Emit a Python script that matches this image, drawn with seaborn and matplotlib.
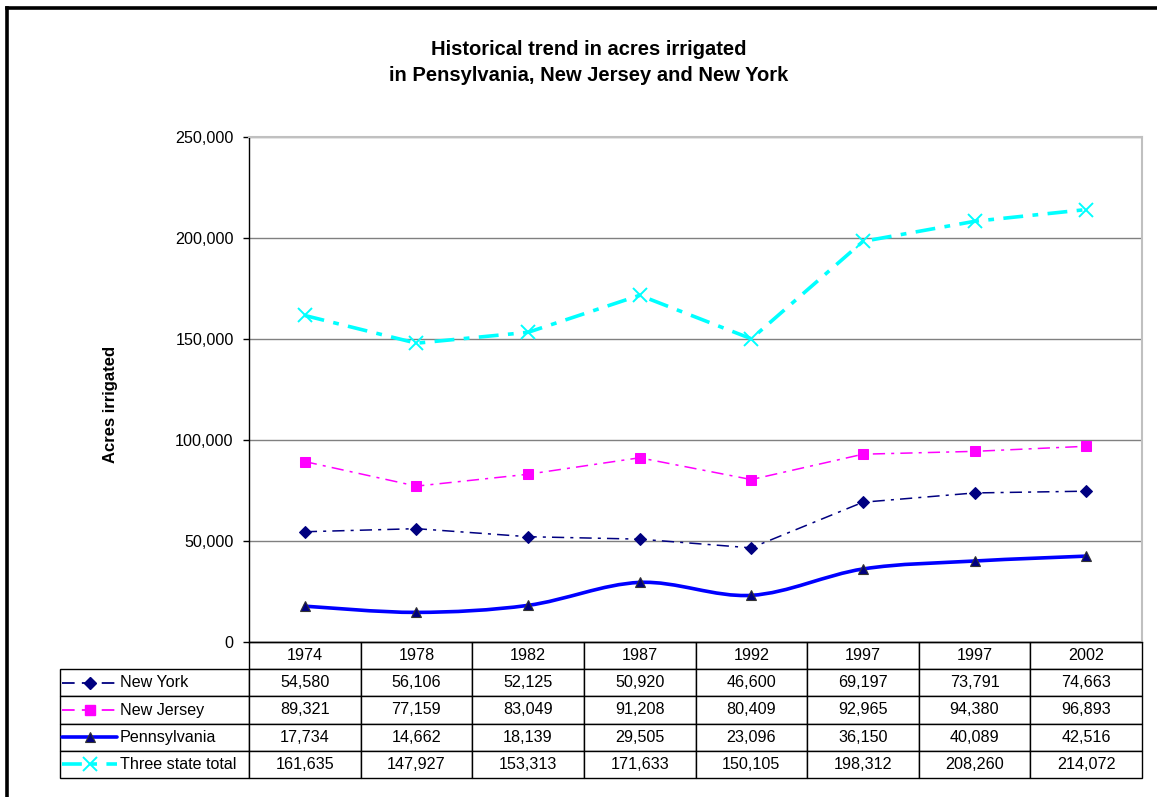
import numpy as np
import pandas as pd
import matplotlib
matplotlib.use("Agg")
import matplotlib.pyplot as plt
import seaborn as sns
from matplotlib.path import Path
from matplotlib.patches import PathPatch
from matplotlib.lines import Line2D
from matplotlib.ticker import StrMethodFormatter, MultipleLocator

# ---- data -------------------------------------------------------------
years = ["1974", "1978", "1982", "1987", "1992", "1997", "1997", "2002"]
series_names = ["New York", "New Jersey", "Pennsylvania", "Three state total"]
new_york = [54580, 56106, 52125, 50920, 46600, 69197, 73791, 74663]
new_jersey = [89321, 77159, 83049, 91208, 80409, 92965, 94380, 96893]
pennsylvania = [17734, 14662, 18139, 29505, 23096, 36150, 40089, 42516]
three_state_total = [161635, 147927, 153313, 171633, 150105, 198312, 208260, 214072]

title_text = "Historical trend in acres irrigated\nin Pensylvania, New Jersey and New York"
y_label = "Acres irrigated"
y_max = 250000
y_step = 50000

# ---- styling ------------------------------------------------------------
sns.set_style("white")
plt.rcParams["font.family"] = ["Liberation Sans", "DejaVu Sans"]
plt.rcParams["text.color"] = "black"

W, H = 1157, 797
fig = plt.figure(figsize=(W / 100, H / 100), dpi=100)
fig.patch.set_facecolor("white")

# plot area in pixel layout
ax_l, ax_r, ax_t, ax_b = 249, 1142, 137, 642
ax = fig.add_axes([ax_l / W, 1 - ax_b / H, (ax_r - ax_l) / W, (ax_b - ax_t) / H])
ax.set_facecolor("white")

pos = np.arange(len(years))
df = pd.DataFrame({
    "pos": np.tile(pos, 4),
    "acres": new_york + new_jersey + pennsylvania + three_state_total,
    "series": np.repeat(series_names, len(years)),
})

styles = {
    "New York": dict(color="#000080", linewidth=1.1, linestyle=(0, (8, 4, 2, 4)),
                     marker="D", markersize=6.0, markerfacecolor="#000080",
                     markeredgecolor="#000080"),
    "New Jersey": dict(color="#FF00FF", linewidth=1.1, linestyle=(0, (8, 4, 2, 4)),
                       marker="s", markersize=7.0, markerfacecolor="#FF00FF",
                       markeredgecolor="#FF00FF"),
    "Three state total": dict(color="#00FFFF", linewidth=2.6, linestyle=(0, (5.5, 2.6, 1.6, 2.6)),
                              marker="x", markersize=9.5, markeredgewidth=1.4,
                              markeredgecolor="#00FFFF"),
}

for name in ["New York", "New Jersey", "Three state total"]:
    sub = df[df["series"] == name]
    sns.lineplot(data=sub, x="pos", y="acres", ax=ax, zorder=3, **styles[name])

# Pennsylvania: smoothed line (cubic Bezier through the points) + markers
sub = df[df["series"] == "Pennsylvania"]
px = sub["pos"].to_numpy(dtype=float)
py = sub["acres"].to_numpy(dtype=float)
P = np.column_stack([px, py])
Pext = np.vstack([P[0], P, P[-1]])
verts = [tuple(P[0])]
codes = [Path.MOVETO]
for i in range(len(P) - 1):
    c1 = P[i] + (Pext[i + 2] - Pext[i]) / 6.0
    c2 = P[i + 1] - (Pext[i + 3] - Pext[i + 1]) / 6.0
    verts += [tuple(c1), tuple(c2), tuple(P[i + 1])]
    codes += [Path.CURVE4] * 3
ax.add_patch(PathPatch(Path(verts, codes), facecolor="none", edgecolor="#0000FF",
                       linewidth=2.6, zorder=3, capstyle="round", joinstyle="round"))
sns.lineplot(data=sub, x="pos", y="acres", ax=ax, linestyle="none", marker="^",
             markersize=7.5, markerfacecolor="#000080", markeredgecolor="#333333",
             markeredgewidth=0.8, zorder=4)

# axes
ax.set_xlim(-0.5, len(years) - 0.5)
ax.set_ylim(0, y_max)
ax.yaxis.set_major_locator(MultipleLocator(y_step))
ax.yaxis.set_major_formatter(StrMethodFormatter("{x:,.0f}"))
ax.set_xticks([])
ax.set_xlabel("")
ax.set_ylabel("")
ax.tick_params(axis="y", which="major", direction="out", length=4, width=1,
               color="black", pad=7, labelsize=11.6, labelcolor="black", left=True)
ax.yaxis.grid(True, color="#808080", linewidth=1.0)
ax.set_axisbelow(True)
for s in ["top", "right"]:
    ax.spines[s].set_color("#C0C0C0")
    ax.spines[s].set_linewidth(1.5)
ax.spines["left"].set_color("black")
ax.spines["left"].set_linewidth(1.0)
ax.spines["bottom"].set_color("black")
ax.spines["bottom"].set_linewidth(1.0)

# ---- data table under the plot ----------------------------------------
tbl_left, tbl_bottom = 60, 778
plot_w = ax_r - ax_l
plot_h = ax_b - ax_t
label_w = ax_l - tbl_left
col_w = plot_w / len(years)

series_values = [new_york, new_jersey, pennsylvania, three_state_total]
cell_text = [[n] + [f"{v:,}" for v in vals] for n, vals in zip(series_names, series_values)]
col_labels = [""] + years
col_widths = [label_w] + [col_w] * len(years)

tbl = ax.table(cellText=cell_text, colLabels=col_labels, colWidths=col_widths,
               cellLoc="center", colLoc="center",
               bbox=[-label_w / plot_w, -(tbl_bottom - ax_b) / plot_h,
                     (label_w + plot_w) / plot_w, (tbl_bottom - ax_b) / plot_h])
tbl.auto_set_font_size(False)
tbl.set_fontsize(11.6)
for (r, c), cell in tbl.get_celld().items():
    cell.set_edgecolor("black")
    cell.set_linewidth(1.0)
    cell.get_text().set_color("black")
    if r == 0 and c == 0:
        cell.visible_edges = "open"
    if r > 0 and c == 0:
        cell.get_text().set_horizontalalignment("left")
        cell.PAD = (120 - tbl_left) / label_w

# legend keys inside the first table column
n_rows = len(series_names) + 1
row_h = (tbl_bottom - ax_b) / n_rows
key_x0, key_x1, key_xc = 62, 117, 90
key_styles = {
    "New York": dict(color="#000080", linewidth=1.3, linestyle=(0, (7, 4)),
                     marker="D", markersize=6.5, markerfacecolor="#000080",
                     markeredgecolor="#000080"),
    "New Jersey": dict(color="#FF00FF", linewidth=1.3, linestyle=(0, (7, 4)),
                       marker="s", markersize=7.5, markerfacecolor="#FF00FF",
                       markeredgecolor="#FF00FF"),
    "Pennsylvania": dict(color="#0000FF", linewidth=2.6, linestyle="-",
                         marker="^", markersize=7.5, markerfacecolor="#000080",
                         markeredgecolor="#333333", markeredgewidth=0.8),
    "Three state total": dict(color="#00FFFF", linewidth=2.6, linestyle=(0, (5.5, 2.6, 1.6, 2.6)),
                              marker="x", markersize=10, markeredgewidth=1.4,
                              markeredgecolor="#00FFFF"),
}
to_ax_x = lambda px_: (px_ - ax_l) / plot_w
to_ax_y = lambda py_: (ax_b - py_) / plot_h
for i, name in enumerate(series_names):
    yc = to_ax_y(ax_b + row_h * (i + 1.5))
    st = dict(key_styles[name])
    mk = {k: st.pop(k) for k in list(st) if k.startswith("marker")}
    ax.add_line(Line2D([to_ax_x(key_x0), to_ax_x(key_x1)], [yc, yc], transform=ax.transAxes,
                       clip_on=False, zorder=5, **st))
    ax.add_line(Line2D([to_ax_x(key_xc)], [yc], transform=ax.transAxes, linestyle="none",
                       color=st["color"], clip_on=False, zorder=6, **mk))

# ---- titles --------------------------------------------------------------
fig.text(589 / W, 1 - 62.5 / H, title_text, ha="center", va="center", color="black",
         fontsize=14.5, fontweight="bold", linespacing=1.5)
fig.text(110 / W, 1 - 404 / H, y_label, ha="center", va="center", rotation=90,
         color="black", fontsize=12, fontweight="bold")

# outer frame (top and left edges)
fig.add_artist(Line2D([6.5 / W, 1.0], [1 - 7.5 / H, 1 - 7.5 / H], transform=fig.transFigure,
                      color="black", linewidth=2.6, solid_capstyle="projecting"))
fig.add_artist(Line2D([6.5 / W, 6.5 / W], [1 - 7.5 / H, 0.0], transform=fig.transFigure,
                      color="black", linewidth=2.6, solid_capstyle="projecting"))

fig.savefig("out.png", dpi=100, facecolor="white")
